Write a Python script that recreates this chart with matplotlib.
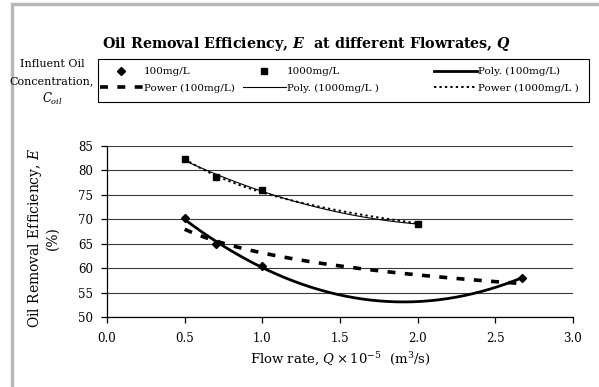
import numpy as np
import matplotlib
matplotlib.use('Agg')
import matplotlib.pyplot as plt
import matplotlib.patches as mpatches
from matplotlib.lines import Line2D

plt.rcParams.update({
    'font.family': 'DejaVu Serif',
    'mathtext.fontset': 'dejavuserif',
    'font.size': 7.5,
    'axes.linewidth': 0.9,
})

W, H = 599, 387

# Data (flow rate x 1e-5 m3/s, efficiency %)
q_100 = [0.5, 0.7, 1.0, 2.67]
e_100 = [70.3, 64.9, 60.4, 58.0]
q_1000 = [0.5, 0.7, 1.0, 2.0]
e_1000 = [82.3, 78.7, 76.0, 69.0]

x_ticks = [0.0, 0.5, 1.0, 1.5, 2.0, 2.5, 3.0]
y_ticks = [50, 55, 60, 65, 70, 75, 80, 85]

# line styles of the trendlines
POLY100 = dict(color='black', lw=2.0)
POW100 = dict(color='black', lw=2.6, ls=(0, (2.2, 2.6)))
POLY1000 = dict(color='black', lw=0.8)
POW1000 = dict(color='black', lw=1.4, ls=(0, (1.2, 1.6)))


def poly_fit(x, y):
    c = np.polyfit(x, y, 2)
    xs = np.linspace(min(x), max(x), 200)
    return xs, np.polyval(c, xs)


def power_fit(x, y):
    b, ln_a = np.polyfit(np.log(x), np.log(y), 1)
    xs = np.linspace(min(x), max(x), 200)
    return xs, np.exp(ln_a) * xs ** b


def fx(px):
    return px / W


def fy(py):
    return 1 - py / H


fig = plt.figure(figsize=(W / 100, H / 100), dpi=100)
fig.patch.set_facecolor('white')

# outer chart frame (only left/top edges are visible)
fig.add_artist(mpatches.Rectangle((fx(12), -0.05), 1.2, fy(4) + 0.05,
                                  transform=fig.transFigure, fill=False,
                                  edgecolor='#b8b8b8', lw=2.5))

ax = fig.add_axes([fx(107), fy(317), (573 - 107) / W, (317 - 146) / H])

for y in y_ticks:
    ax.axhline(y, color='#3a3a3a', lw=0.8, zorder=0)

ax.plot(*poly_fit(q_100, e_100), **POLY100)
ax.plot(*power_fit(q_100, e_100), **POW100)
ax.plot(*poly_fit(q_1000, e_1000), **POLY1000)
ax.plot(*power_fit(q_1000, e_1000), **POW1000)

ax.plot(q_100, e_100, 'D', color='black', ms=4.5, ls='none')
ax.plot(q_1000, e_1000, 's', color='black', ms=5, ls='none')

ax.set_xlim(0, 3.0)
ax.set_ylim(50, 85)
ax.set_xticks(x_ticks)
ax.set_xticklabels([f'{v:.1f}' for v in x_ticks])
ax.set_yticks(y_ticks)
for s in ['top', 'right']:
    ax.spines[s].set_visible(False)
ax.tick_params(axis='both', direction='out', length=4, width=0.9, labelsize=8.5, pad=7)
ax.tick_params(axis='y', pad=6)

ax.set_xlabel(r'Flow rate, $Q \times 10^{-5}$  (m$^3$/s)', fontsize=9.5, labelpad=4)
fig.text(fx(43), fy(238), 'Oil Removal Efficiency, $E$\n(%)', rotation=90,
         ha='center', va='center', fontsize=10, linespacing=1.15)

fig.text(fx(307), fy(44), r'Oil Removal Efficiency, $\mathbfit{E}$  at different Flowrates, $\mathbfit{Q}$',
         ha='center', va='center', fontsize=10.3, fontweight='bold')

fig.text(fx(52), fy(64), 'Influent Oil', ha='center', va='center', fontsize=8)
fig.text(fx(52), fy(81), 'Concentration,', ha='center', va='center', fontsize=8)
fig.text(fx(52), fy(99), '$C_{oil}$', ha='center', va='center', fontsize=8.5)

# legend frame
fig.add_artist(mpatches.Rectangle((fx(98), fy(102)), (589 - 98) / W, (102 - 59) / H,
                                  transform=fig.transFigure, fill=False,
                                  edgecolor='black', lw=0.8))

legend_cols = [
    (100, [Line2D([], [], marker='D', color='black', ms=4, ls='none'), Line2D([], [], **POW100)],
     ['100mg/L', 'Power (100mg/L)']),
    (243, [Line2D([], [], marker='s', color='black', ms=4.5, ls='none'), Line2D([], [], **POLY1000)],
     ['1000mg/L', 'Poly. (1000mg/L )']),
    (434, [Line2D([], [], **POLY100), Line2D([], [], **POW1000)],
     ['Poly. (100mg/L)', 'Power (1000mg/L )']),
]
for x0, hs, ls in legend_cols:
    fig.legend(hs, ls, loc='upper left', bbox_to_anchor=(fx(x0), fy(67)),
               frameon=False, fontsize=7.5, handlelength=4.1, handletextpad=0.1,
               borderpad=0, borderaxespad=0, labelspacing=0.7)

fig.savefig('out.png', dpi=100, facecolor='white')
